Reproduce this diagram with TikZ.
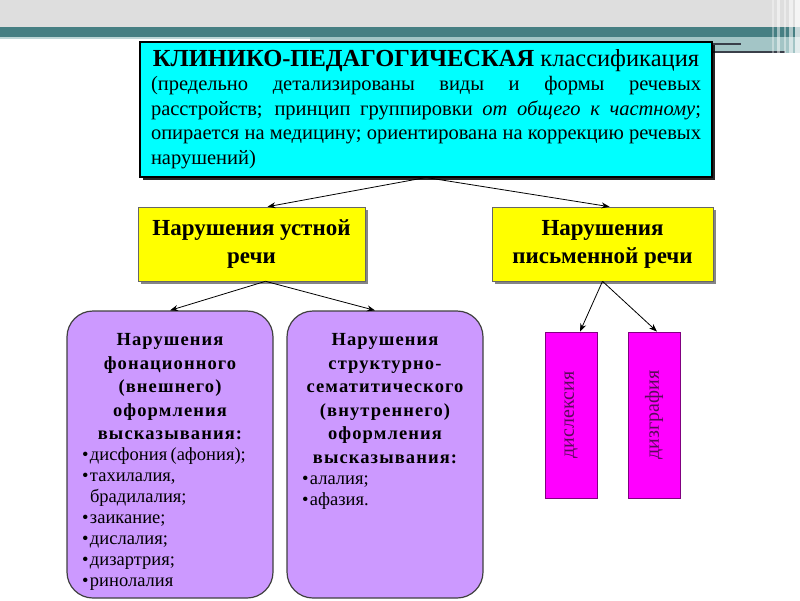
\documentclass[tikz,border=0pt]{standalone}
\usepackage{fontspec}
\setmainfont{Liberation Serif}
\usetikzlibrary{calc,arrows.meta,shadows}
\definecolor{hdrgray}{HTML}{DEDEDE}
\definecolor{hdrteal}{HTML}{467F83}
\definecolor{hdrlteal}{HTML}{A3C5C6}
\definecolor{hdrline}{HTML}{3A3F4A}
\definecolor{cyanbox}{HTML}{00FFFF}
\definecolor{yelbox}{HTML}{FFFF00}
\definecolor{purbox}{HTML}{CC99FF}
\definecolor{magbox}{HTML}{FF00FF}
\definecolor{magtext}{HTML}{5A0A5A}
\newcommand\mybul[1]{\par\hangindent=8pt\hangafter=1\noindent\makebox[8pt][l]{\textbullet}#1}
\begin{document}
\begin{tikzpicture}[x=1pt,y=-1pt,
  arr/.style={-{Stealth[length=8pt,width=6pt]}, line width=0.8pt},
  topbox/.style={draw=black, line width=2pt, fill=cyanbox, minimum width=572pt, minimum height=135pt,
    text width=550pt, inner xsep=11pt, align=justify, font=\fontsize{20.5}{24.5}\selectfont,
    drop shadow={shadow xshift=3pt,shadow yshift=-3pt,fill=black,opacity=0.85}},
  ybox/.style={draw=black!60, line width=0.6pt, fill=yelbox, minimum height=74pt,
    align=center, font=\bfseries\fontsize{23}{28}\selectfont,
    drop shadow={shadow xshift=2.5pt,shadow yshift=-2.5pt,fill=black!60,opacity=0.8}},
  pbox/.style={draw=black!75, line width=1.2pt, fill=purbox, rounded corners=26pt, minimum height=287pt},
  ptext/.style={text width=196pt, align=left, inner sep=0pt},
  mbox/.style={draw=black!50!magbox, line width=0.8pt, fill=magbox, minimum width=52pt, minimum height=166pt},
  mtext/.style={rotate=90, font=\fontsize{20}{22}\selectfont, text=magtext},
]
\useasboundingbox (0,0) rectangle (800,600);
% header
\fill[hdrgray] (0,0) rectangle (800,27);
\fill[hdrteal] (0,27) rectangle (800,37);
\fill[hdrlteal!70] (0,37) rectangle (310,39);
\fill[hdrlteal] (310,37) rectangle (800,53);
\fill[hdrline] (712,43) rectangle (741,45);
\fill[hdrline] (712,51) rectangle (785,53);
\foreach \xa/\w/\o in {772/2/0.35,777/3/0.5,784/2/0.4,789/4/0.55,795/5/0.7}
  \fill[white,opacity=\o] (\xa,0) rectangle ++(\w,53);

% top box
\node[topbox] (top) at (426,109) {\parindent=0pt
\centerline{\fontsize{24.5}{24.5}\selectfont\bfseries КЛИНИКО-ПЕДАГОГИЧЕСКАЯ \mdseries классификация}\par
(предельно детализированы виды и формы речевых\linebreak
расстройств; принцип группировки \textit{от общего к частному};\linebreak
опирается на медицину; ориентирована на коррекцию речевых\linebreak
нарушений)\par};

% yellow boxes
\node[ybox, minimum width=227pt] (yl) at (251.5,244) {Нарушения устной\\речи};
\node[ybox, minimum width=221pt] (yr) at (602.5,244) {Нарушения\\письменной речи};

% purple boxes
\node[pbox, minimum width=206pt] (pl) at (170,454.5) {};
\node[pbox, minimum width=196pt] (pr) at (385,454.5) {};
\node[ptext, anchor=north] (plt) at ($(pl.north)+(0,23)$) {%
{\centering\bfseries\addfontfeature{LetterSpace=6}\fontsize{18.5}{23.5}\selectfont
Нарушения\\фонационного\\(внешнего)\\оформления\\высказывания:\par}
{\fontsize{18.5}{21}\selectfont\leftskip=10pt
\mybul{дисфония (афония);}
\mybul{тахилалия,\newline брадилалия;}
\mybul{заикание;}
\mybul{дислалия;}
\mybul{дизартрия;}
\mybul{ринолалия}\par}};
\node[ptext, anchor=north, text width=190pt] (prt) at ($(pr.north)+(0,23)$) {%
{\centering\bfseries\addfontfeature{LetterSpace=6}\fontsize{18.5}{23.5}\selectfont
Нарушения\\структурно-\\сематитического\\(внутреннего)\\оформления\\высказывания:\par}
{\fontsize{18.5}{21}\selectfont\leftskip=12pt
\mybul{алалия;}
\mybul{афазия.}\par}};

% magenta boxes
\node[mbox] (m1) at (571,415) {};
\node[mbox] (m2) at (654,415) {};
\node[mtext] (m1t) at (m1.center) {дислексия};
\node[mtext] (m2t) at (m2.center) {дизграфия};

% connectors
\draw[arr] (top.south) -- ($(yl.north)+(16,0)$);
\draw[arr] (top.south) -- ($(yr.north)+(7,0)$);
\draw[arr] ($(yl.south)+(14,0)$) -- (pl.north);
\draw[arr] ($(yl.south)+(14,0)$) -- ($(pr.north)+(-10,0)$);
\draw[arr] (yr.south) -- ($(m1.north)+(9,0)$);
\draw[arr] (yr.south) -- ($(m2.north)+(3,0)$);
\end{tikzpicture}
\end{document}
